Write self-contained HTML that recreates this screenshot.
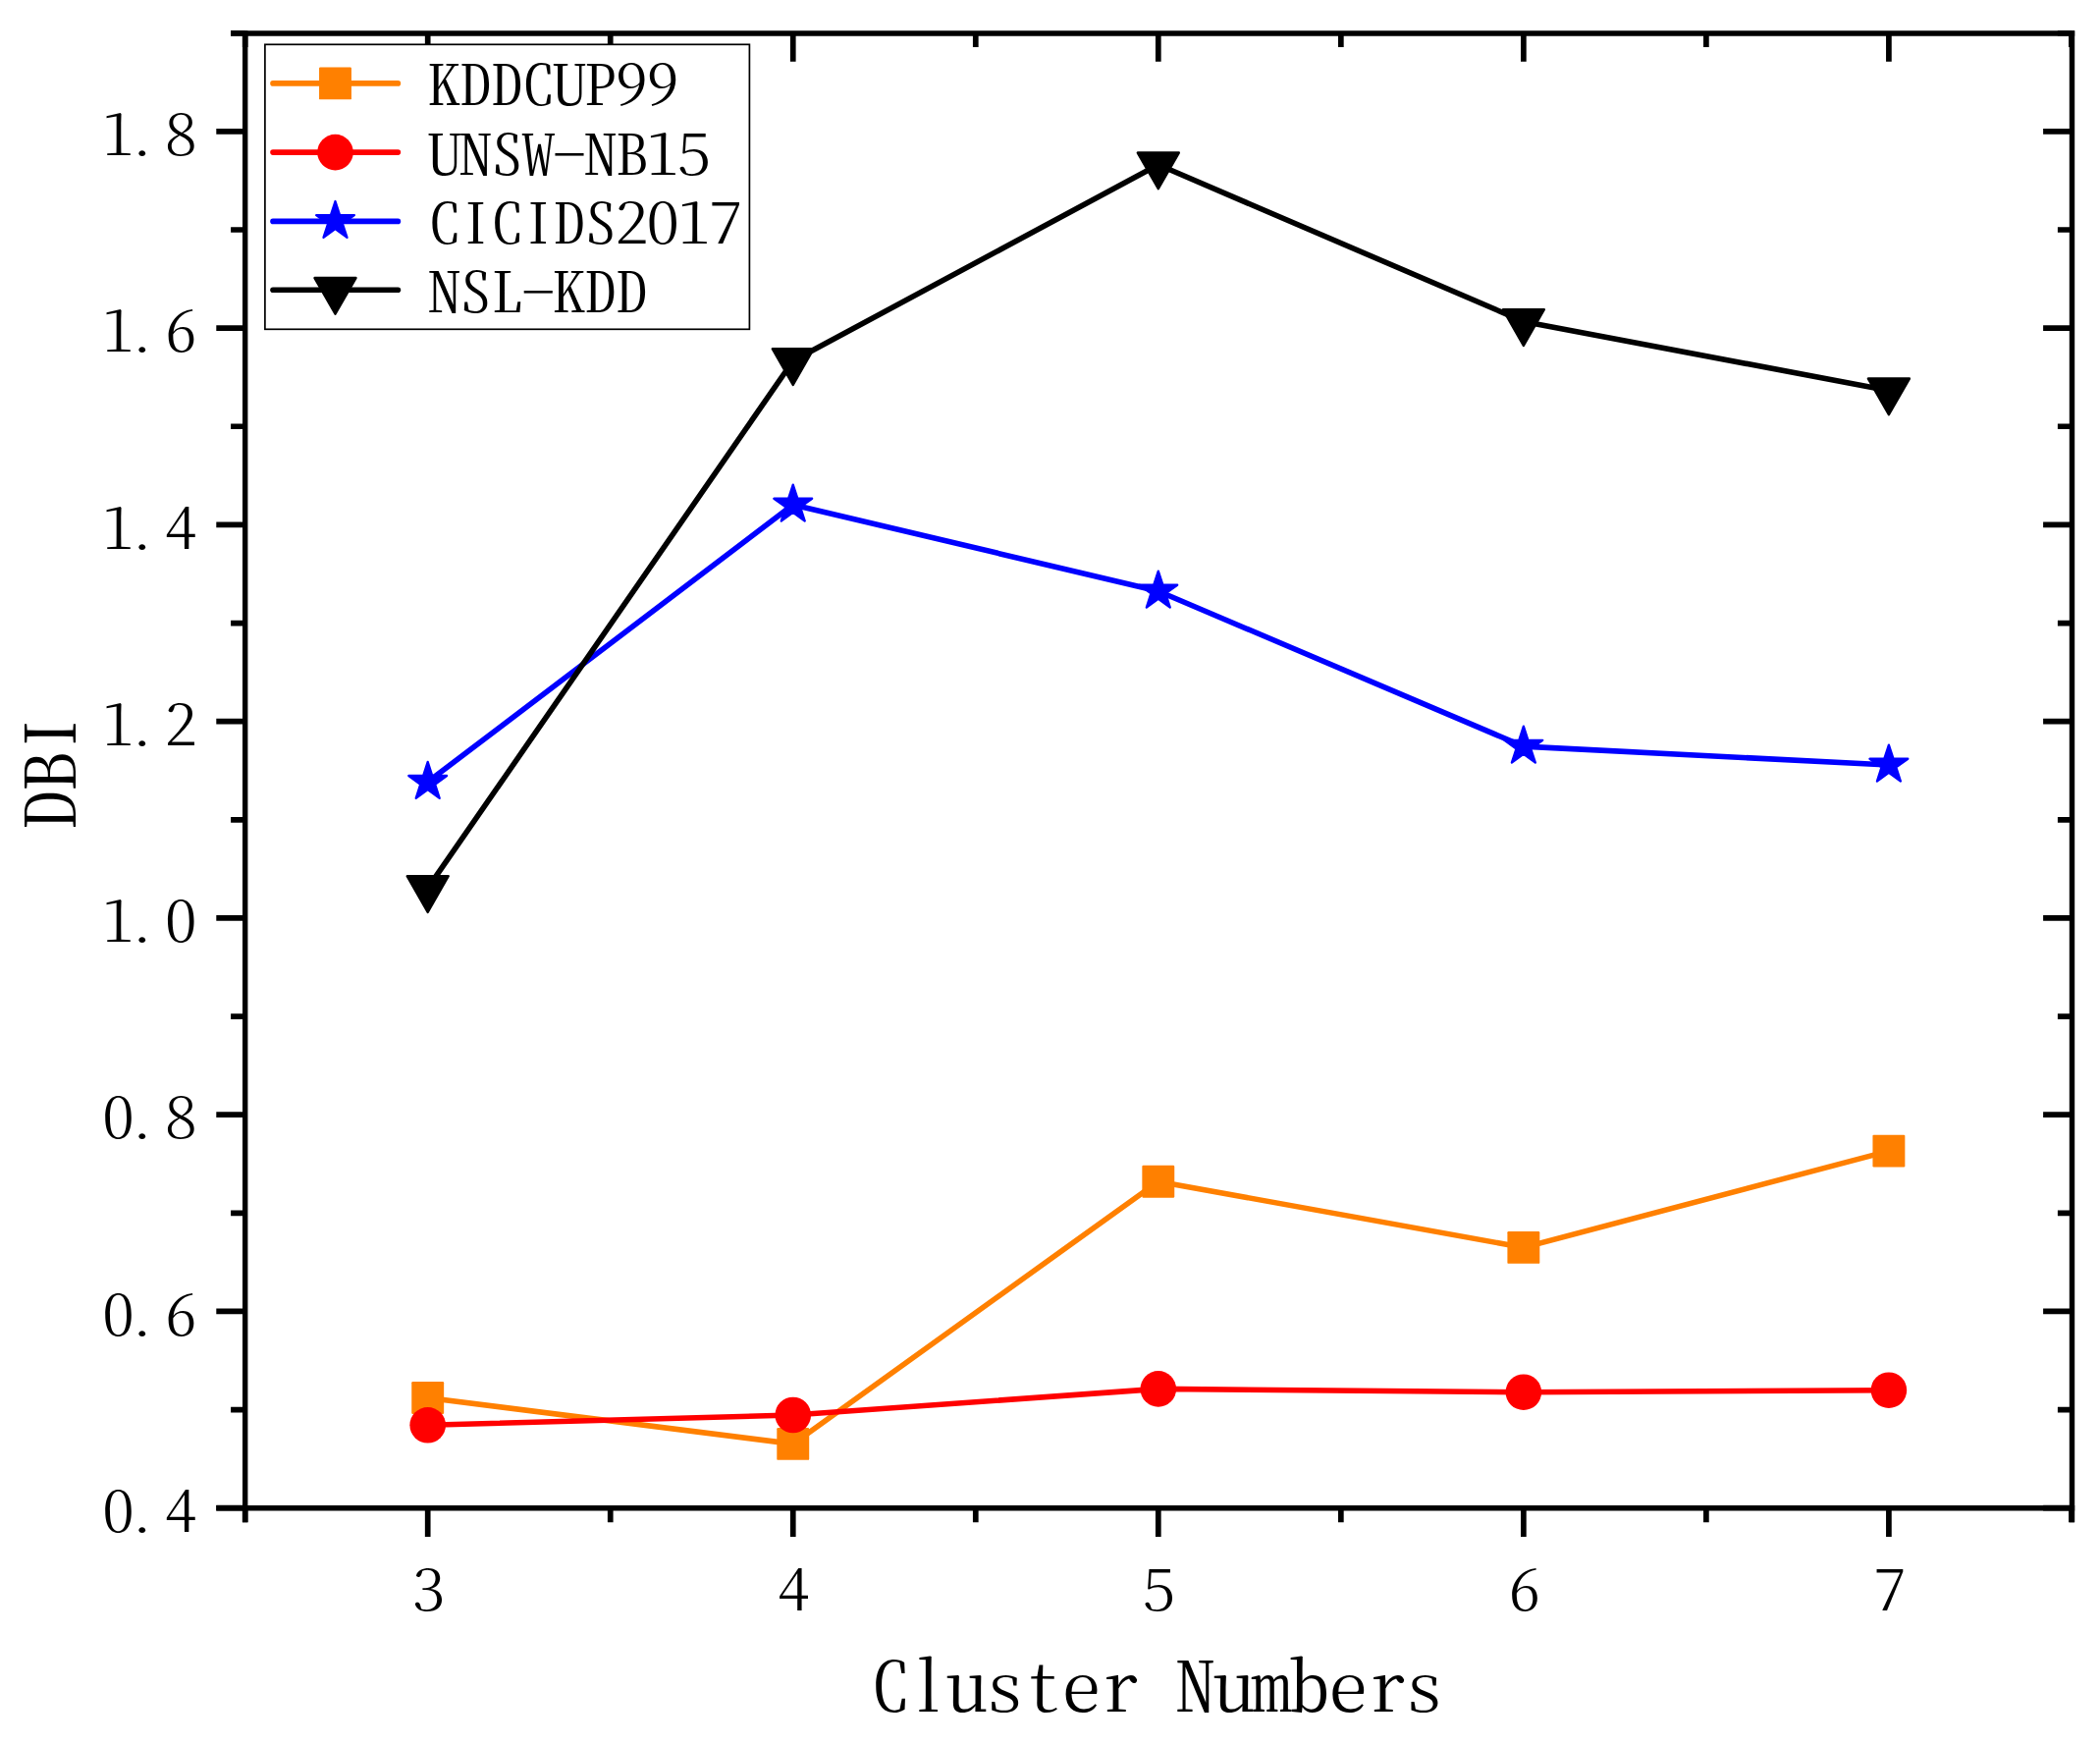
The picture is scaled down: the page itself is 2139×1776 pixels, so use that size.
<!DOCTYPE html>
<html lang="en"><head><meta charset="utf-8"><title>DBI vs Cluster Numbers</title>
<style>html,body{margin:0;padding:0;background:#fff}body{width:2139px;height:1776px;overflow:hidden}svg{display:block}</style></head>
<body>
<svg width="2139" height="1776" viewBox="0 0 2139 1776">
<rect x="0" y="0" width="2139" height="1776" fill="#fff"/>
<g fill="none" stroke-linejoin="round" stroke-linecap="butt">
<polyline points="435.70,1423.50 807.75,1470.40 1179.80,1203.20 1551.85,1270.40 1923.90,1172.10" stroke="#ff8000" stroke-width="5.6"/>
</g><g>
<rect x="419.25" y="1407.05" width="32.9" height="32.9" rx="1.2" fill="#ff8000"/>
<rect x="791.30" y="1453.95" width="32.9" height="32.9" rx="1.2" fill="#ff8000"/>
<rect x="1163.35" y="1186.75" width="32.9" height="32.9" rx="1.2" fill="#ff8000"/>
<rect x="1535.40" y="1253.95" width="32.9" height="32.9" rx="1.2" fill="#ff8000"/>
<rect x="1907.45" y="1155.65" width="32.9" height="32.9" rx="1.2" fill="#ff8000"/>
</g><g fill="none" stroke-linejoin="round" stroke-linecap="butt">
<polyline points="435.70,1451.30 807.75,1441.00 1179.80,1414.40 1551.85,1417.70 1923.90,1415.70" stroke="#ff0000" stroke-width="5.6"/>
</g><g>
<circle cx="435.70" cy="1451.30" r="18.3" fill="#ff0000"/>
<circle cx="807.75" cy="1441.00" r="18.3" fill="#ff0000"/>
<circle cx="1179.80" cy="1414.40" r="18.3" fill="#ff0000"/>
<circle cx="1551.85" cy="1417.70" r="18.3" fill="#ff0000"/>
<circle cx="1923.90" cy="1415.70" r="18.3" fill="#ff0000"/>
</g><g fill="none" stroke-linejoin="round" stroke-linecap="butt">
<polyline points="435.70,796.30 807.75,514.00 1179.80,602.00 1551.85,760.10 1923.90,779.00" stroke="#0000ff" stroke-width="5.6"/>
</g><g>
<polygon points="435.70,775.90 440.28,790.00 455.10,790.00 443.11,798.71 447.69,812.80 435.70,804.09 423.71,812.80 428.29,798.71 416.30,790.00 431.12,790.00" fill="#0000ff" stroke="#0000ff" stroke-width="2.3" stroke-linejoin="round"/>
<polygon points="807.75,493.60 812.33,507.70 827.15,507.70 815.16,516.41 819.74,530.50 807.75,521.79 795.76,530.50 800.34,516.41 788.35,507.70 803.17,507.70" fill="#0000ff" stroke="#0000ff" stroke-width="2.3" stroke-linejoin="round"/>
<polygon points="1179.80,581.60 1184.38,595.70 1199.20,595.70 1187.21,604.41 1191.79,618.50 1179.80,609.79 1167.81,618.50 1172.39,604.41 1160.40,595.70 1175.22,595.70" fill="#0000ff" stroke="#0000ff" stroke-width="2.3" stroke-linejoin="round"/>
<polygon points="1551.85,739.70 1556.43,753.80 1571.25,753.80 1559.26,762.51 1563.84,776.60 1551.85,767.89 1539.86,776.60 1544.44,762.51 1532.45,753.80 1547.27,753.80" fill="#0000ff" stroke="#0000ff" stroke-width="2.3" stroke-linejoin="round"/>
<polygon points="1923.90,758.60 1928.48,772.70 1943.30,772.70 1931.31,781.41 1935.89,795.50 1923.90,786.79 1911.91,795.50 1916.49,781.41 1904.50,772.70 1919.32,772.70" fill="#0000ff" stroke="#0000ff" stroke-width="2.3" stroke-linejoin="round"/>
</g><g fill="none" stroke-linejoin="round" stroke-linecap="butt">
<polyline points="435.70,904.40 807.75,367.50 1179.80,167.80 1551.85,327.40 1923.90,397.80" stroke="#000000" stroke-width="5.6"/>
</g><g>
<polygon points="414.70,892.17 456.70,892.17 435.70,928.87" fill="#000000" stroke="#000000" stroke-width="2.4" stroke-linejoin="round"/>
<polygon points="786.75,355.27 828.75,355.27 807.75,391.97" fill="#000000" stroke="#000000" stroke-width="2.4" stroke-linejoin="round"/>
<polygon points="1158.80,155.57 1200.80,155.57 1179.80,192.27" fill="#000000" stroke="#000000" stroke-width="2.4" stroke-linejoin="round"/>
<polygon points="1530.85,315.17 1572.85,315.17 1551.85,351.87" fill="#000000" stroke="#000000" stroke-width="2.4" stroke-linejoin="round"/>
<polygon points="1902.90,385.57 1944.90,385.57 1923.90,422.27" fill="#000000" stroke="#000000" stroke-width="2.4" stroke-linejoin="round"/>
</g><g fill="none" stroke-linejoin="round" stroke-linecap="butt">
</g>
<g stroke="#000" stroke-width="5.4" fill="none" stroke-linecap="butt">
<path d="M249.7,31.3 V1550.3"/>
<path d="M2110.5,31.3 V1550.3"/>
<path d="M235.1,34.0 H2113.2"/>
<path d="M220.29999999999998,1535.7 H2113.2"/>
</g>
<g stroke="#000" stroke-width="5.7" fill="none" stroke-linecap="butt">
<path d="M220.29999999999998,1535.70H249.7 M2081.1,1535.70H2110.5 M220.29999999999998,1335.44H249.7 M2081.1,1335.44H2110.5 M220.29999999999998,1135.18H249.7 M2081.1,1135.18H2110.5 M220.29999999999998,934.92H249.7 M2081.1,934.92H2110.5 M220.29999999999998,734.66H249.7 M2081.1,734.66H2110.5 M220.29999999999998,534.40H249.7 M2081.1,534.40H2110.5 M220.29999999999998,334.14H249.7 M2081.1,334.14H2110.5 M220.29999999999998,133.88H249.7 M2081.1,133.88H2110.5 M235.1,1435.57H249.7 M2095.9,1435.57H2110.5 M235.1,1235.31H249.7 M2095.9,1235.31H2110.5 M235.1,1035.05H249.7 M2095.9,1035.05H2110.5 M235.1,834.79H249.7 M2095.9,834.79H2110.5 M235.1,634.53H249.7 M2095.9,634.53H2110.5 M235.1,434.27H249.7 M2095.9,434.27H2110.5 M235.1,234.01H249.7 M2095.9,234.01H2110.5 M235.1,33.75H249.7 M2095.9,33.75H2110.5 M435.70,1535.7V1565.1000000000001 M435.70,34.0V62.7 M807.75,1535.7V1565.1000000000001 M807.75,34.0V62.7 M1179.80,1535.7V1565.1000000000001 M1179.80,34.0V62.7 M1551.85,1535.7V1565.1000000000001 M1551.85,34.0V62.7 M1923.90,1535.7V1565.1000000000001 M1923.90,34.0V62.7 M249.67,1535.7V1550.3 M249.67,34.0V47.9 M621.73,1535.7V1550.3 M621.73,34.0V47.9 M993.78,1535.7V1550.3 M993.78,34.0V47.9 M1365.83,1535.7V1550.3 M1365.83,34.0V47.9 M1737.88,1535.7V1550.3 M1737.88,34.0V47.9 M2109.93,1535.7V1550.3 M2109.93,34.0V47.9"/>
</g>
<text font-family="'Noto Serif CJK SC', 'Liberation Serif', serif" font-weight="300" style="font-feature-settings:'hwid' 1" font-size="63.6" fill="#000" text-anchor="middle" transform="translate(0,1559.90) scale(1.04,0.89)" x="115.96 139.33 177.12" y="0">0.4</text>
<text font-family="'Noto Serif CJK SC', 'Liberation Serif', serif" font-weight="300" style="font-feature-settings:'hwid' 1" font-size="63.6" fill="#000" text-anchor="middle" transform="translate(0,1359.64) scale(1.04,0.89)" x="115.96 139.33 177.12" y="0">0.6</text>
<text font-family="'Noto Serif CJK SC', 'Liberation Serif', serif" font-weight="300" style="font-feature-settings:'hwid' 1" font-size="63.6" fill="#000" text-anchor="middle" transform="translate(0,1159.38) scale(1.04,0.89)" x="115.96 139.33 177.12" y="0">0.8</text>
<text font-family="'Noto Serif CJK SC', 'Liberation Serif', serif" font-weight="300" style="font-feature-settings:'hwid' 1" font-size="63.6" fill="#000" text-anchor="middle" transform="translate(0,959.12) scale(1.04,0.89)" x="115.96 139.33 177.12" y="0">1.0</text>
<text font-family="'Noto Serif CJK SC', 'Liberation Serif', serif" font-weight="300" style="font-feature-settings:'hwid' 1" font-size="63.6" fill="#000" text-anchor="middle" transform="translate(0,758.86) scale(1.04,0.89)" x="115.96 139.33 177.12" y="0">1.2</text>
<text font-family="'Noto Serif CJK SC', 'Liberation Serif', serif" font-weight="300" style="font-feature-settings:'hwid' 1" font-size="63.6" fill="#000" text-anchor="middle" transform="translate(0,558.60) scale(1.04,0.89)" x="115.96 139.33 177.12" y="0">1.4</text>
<text font-family="'Noto Serif CJK SC', 'Liberation Serif', serif" font-weight="300" style="font-feature-settings:'hwid' 1" font-size="63.6" fill="#000" text-anchor="middle" transform="translate(0,358.34) scale(1.04,0.89)" x="115.96 139.33 177.12" y="0">1.6</text>
<text font-family="'Noto Serif CJK SC', 'Liberation Serif', serif" font-weight="300" style="font-feature-settings:'hwid' 1" font-size="63.6" fill="#000" text-anchor="middle" transform="translate(0,158.08) scale(1.04,0.89)" x="115.96 139.33 177.12" y="0">1.8</text>
<text font-family="'Noto Serif CJK SC', 'Liberation Serif', serif" font-weight="300" style="font-feature-settings:'hwid' 1" font-size="63.6" fill="#000" text-anchor="middle" transform="translate(0,1640.30) scale(1.04,0.89)" x="419.81" y="0">3</text>
<text font-family="'Noto Serif CJK SC', 'Liberation Serif', serif" font-weight="300" style="font-feature-settings:'hwid' 1" font-size="63.6" fill="#000" text-anchor="middle" transform="translate(0,1640.30) scale(1.04,0.89)" x="777.55" y="0">4</text>
<text font-family="'Noto Serif CJK SC', 'Liberation Serif', serif" font-weight="300" style="font-feature-settings:'hwid' 1" font-size="63.6" fill="#000" text-anchor="middle" transform="translate(0,1640.30) scale(1.04,0.89)" x="1135.29" y="0">5</text>
<text font-family="'Noto Serif CJK SC', 'Liberation Serif', serif" font-weight="300" style="font-feature-settings:'hwid' 1" font-size="63.6" fill="#000" text-anchor="middle" transform="translate(0,1640.30) scale(1.04,0.89)" x="1493.03" y="0">6</text>
<text font-family="'Noto Serif CJK SC', 'Liberation Serif', serif" font-weight="300" style="font-feature-settings:'hwid' 1" font-size="63.6" fill="#000" text-anchor="middle" transform="translate(0,1640.30) scale(1.04,0.89)" x="1850.77" y="0">7</text>
<rect x="269.9" y="45.3" width="493.5" height="290.0" fill="#fff" stroke="#000" stroke-width="1.7"/>
<path d="M278,84.9H405.4" stroke="#ff8000" stroke-width="5.6" stroke-linecap="round" fill="none"/>
<rect x="325.05" y="68.45" width="32.9" height="32.9" rx="1.2" fill="#ff8000"/>
<text font-family="'Noto Serif CJK SC', 'Liberation Serif', serif" font-weight="300" style="font-feature-settings:'hwid' 1" font-size="63.6" fill="#000" text-anchor="middle" transform="translate(0,107.30) scale(1.07,0.89)" x="423.18 452.90 482.62 512.34 542.06 571.78 601.50 631.21" y="0">KDDCUP99</text>
<path d="M278,155.1H405.4" stroke="#ff0000" stroke-width="5.6" stroke-linecap="round" fill="none"/>
<circle cx="341.50" cy="155.10" r="18.3" fill="#ff0000"/>
<text font-family="'Noto Serif CJK SC', 'Liberation Serif', serif" font-weight="300" style="font-feature-settings:'hwid' 1" font-size="63.6" fill="#000" text-anchor="middle" transform="translate(0,177.50) scale(1.07,0.89)" x="423.18 452.90 482.62 512.34 542.06 571.78 601.50 631.21 660.93" y="0">UNSW-NB15</text>
<path d="M278,225.4H405.4" stroke="#0000ff" stroke-width="5.6" stroke-linecap="round" fill="none"/>
<polygon points="341.50,205.00 346.08,219.10 360.90,219.10 348.91,227.81 353.49,241.90 341.50,233.19 329.51,241.90 334.09,227.81 322.10,219.10 336.92,219.10" fill="#0000ff" stroke="#0000ff" stroke-width="2.3" stroke-linejoin="round"/>
<text font-family="'Noto Serif CJK SC', 'Liberation Serif', serif" font-weight="300" style="font-feature-settings:'hwid' 1" font-size="63.6" fill="#000" text-anchor="middle" transform="translate(0,247.80) scale(1.07,0.89)" x="423.18 452.90 482.62 512.34 542.06 571.78 601.50 631.21 660.93 690.65" y="0">CICIDS2017</text>
<path d="M278,295.3H405.4" stroke="#000000" stroke-width="5.6" stroke-linecap="round" fill="none"/>
<polygon points="320.50,283.07 362.50,283.07 341.50,319.77" fill="#000000" stroke="#000000" stroke-width="2.4" stroke-linejoin="round"/>
<text font-family="'Noto Serif CJK SC', 'Liberation Serif', serif" font-weight="300" style="font-feature-settings:'hwid' 1" font-size="63.6" fill="#000" text-anchor="middle" transform="translate(0,317.70) scale(1.07,0.89)" x="423.18 452.90 482.62 512.34 542.06 571.78 601.50" y="0">NSL-KDD</text>
<text font-family="'Noto Serif CJK SC', 'Liberation Serif', serif" font-weight="300" style="font-feature-settings:'hwid' 1" font-size="77.7" fill="#000" text-anchor="middle" transform="translate(0,1742.70) scale(1.04,0.89)" x="871.95 909.30 946.66 984.01 1021.37 1058.73 1096.08 1133.44 1170.79 1208.15 1245.50 1282.86 1320.22 1357.57 1394.93" y="0">Cluster Numbers</text>
<text font-family="'Noto Serif CJK SC', 'Liberation Serif', serif" font-weight="300" style="font-feature-settings:'hwid' 1" font-size="77.7" fill="#000" text-anchor="middle" transform="translate(76.8,844.0) rotate(-90) translate(0,0.00) scale(1.08,0.89)" x="17.99 53.96 89.93" y="0">DBI</text>
</svg>
</body></html>
